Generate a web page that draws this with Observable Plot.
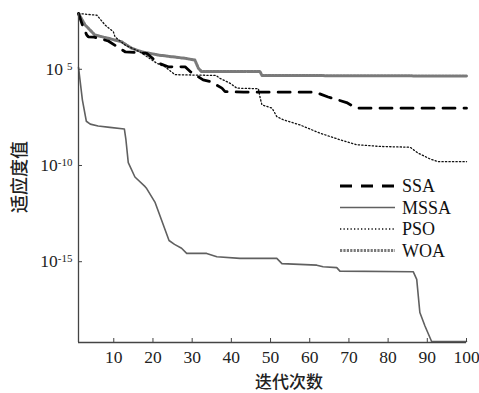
<!DOCTYPE html>
<html><head><meta charset="utf-8">
<script src="https://cdn.jsdelivr.net/npm/d3@7"></script>
<script src="https://cdn.jsdelivr.net/npm/@observablehq/plot@0.6"></script>
<style>
body{margin:0;background:#fff;}
#chart{width:479px;height:393px;}
svg text.tick-serif{font-family:'Liberation Serif','Times New Roman',serif !important;font-size:17.5px !important;}
</style></head><body><div id="chart"></div>
<script>
// ---- data (iteration, log10 of fitness) ----
const seriesNames = ["SSA", "MSSA", "PSO", "WOA"];
const ssaIter  = [1, 2, 3.1, 3.5, 5, 8.6, 12.9, 18.4, 21.3, 23.9, 28.2, 29.5, 32.8, 34.6, 37.6, 38.4, 43.1, 61.4, 64.7, 69.4, 72, 100];
const ssaLog10 = [-2.1, -2.7, -3.22, -3.31, -3.33, -3.53, -4.09, -4.17, -4.67, -4.87, -4.87, -5.12, -5.55, -5.64, -5.98, -6.16, -6.19, -6.19, -6.44, -6.73, -7.02, -7.02];
const mssaIter  = [1, 2, 3, 4, 6, 9, 12.7, 13.1, 13.7, 15.4, 18, 18.4, 20.5, 24.1, 25.5, 27.3, 28.6, 33.7, 36.3, 42.2, 51.6, 52.9, 61.8, 63.4, 66.9, 67.7, 86.4, 87.3, 88.1, 89.4, 91.1, 100];
const mssaLog10 = [-4.9, -6.6, -7.7, -7.85, -7.95, -8.02, -8.1, -8.66, -9.85, -10.6, -11.1, -11.2, -11.9, -13.9, -14.1, -14.3, -14.57, -14.57, -14.74, -14.83, -14.83, -15.1, -15.18, -15.26, -15.31, -15.49, -15.52, -15.92, -17.64, -18.34, -19.15, -19.15];
const psoIter  = [1, 5.7, 7.8, 9.9, 10.3, 12.9, 16.7, 21, 23.1, 25.6, 30.7, 36.1, 37.1, 39.7, 41.4, 46.9, 47.3, 47.8, 50.4, 51.6, 53.3, 57.5, 62.6, 67.7, 72, 77.9, 85.6, 87.6, 90.7, 92.7, 100];
const psoLog10 = [-2.1, -2.19, -2.7, -3.05, -3.31, -3.74, -4.1, -4.69, -4.87, -5.28, -5.3, -5.32, -5.47, -5.73, -5.98, -6.01, -6.44, -6.85, -7.02, -7.46, -7.63, -7.89, -8.32, -8.66, -8.92, -9.01, -9.05, -9.35, -9.66, -9.8, -9.8];
const woaIter  = [1, 2.7, 5.2, 8.6, 12, 14.6, 17.1, 21.4, 28.2, 30.7, 31.6, 32.4, 47.3, 47.8, 100];
const woaLog10 = [-2.1, -2.7, -3.22, -3.39, -3.57, -3.91, -4.09, -4.26, -4.43, -4.52, -4.95, -5.12, -5.11, -5.32, -5.35];

const xTicks = [10, 20, 30, 40, 50, 60, 70, 80, 90, 100];
const yTickExps = [-5, -10, -15];
const yTickBase = ["10", "10", "10"];
const yTickSup = ["5", "-10", "-15"];
const xTitle = "迭代次数";
const yTitle = "适应度值";

// ---- build tables ----
const toRows = (xs, ls) => xs.map((x, i) => ({x, y: Math.pow(10, ls[i])}));
const ssa = toRows(ssaIter, ssaLog10);
const mssa = toRows(mssaIter, mssaLog10);
const pso = toRows(psoIter, psoLog10);
const woa = toRows(woaIter, woaLog10);

const styles = {
  SSA:  {stroke: "#000", strokeWidth: 2.8, strokeDasharray: "12,9"},
  MSSA: {stroke: "#606060", strokeWidth: 1.6, strokeDasharray: null},
  PSO:  {stroke: "#111", strokeWidth: 1.3, strokeDasharray: "1.3,2.2"},
  WOA:  {stroke: "#7a7a7a", strokeWidth: 3, strokeDasharray: "2.2,1.2"}
};

const serif = "'Liberation Serif', 'Times New Roman', serif";
const cjk = "'Noto Sans CJK SC', sans-serif";
const yMin = Math.pow(10, -19.2), yMax = Math.pow(10, -2.1);
const axisColor = "#444";

const plot = Plot.plot({
  width: 479, height: 393,
  marginLeft: 78, marginRight: 13, marginTop: 13, marginBottom: 51,
  style: {fontFamily: serif, fontSize: "17px", color: "#222", background: "#fff", overflow: "visible"},
  x: {domain: [1, 100]},
  y: {type: "log", domain: [yMin, yMax]},
  marks: [
    Plot.line(mssa, {x: "x", y: "y", ...styles.MSSA}),
    Plot.line(woa, {x: "x", y: "y", ...styles.WOA}),
    Plot.line(pso, {x: "x", y: "y", ...styles.PSO}),
    Plot.line(ssa, {x: "x", y: "y", ...styles.SSA}),
    Plot.ruleX([1], {stroke: axisColor, strokeWidth: 1.3}),
    Plot.ruleY([yMin], {stroke: axisColor, strokeWidth: 1.3}),
    Plot.axisX({ticks: xTicks, tickSize: -4, tickPadding: 12, label: null, stroke: axisColor, fill: "#222"}),
    Plot.axisY({ticks: yTickExps.map(e => Math.pow(10, e)), tickSize: -4, tickPadding: 10, label: null, stroke: axisColor, fill: "#222",
      tickFormat: d => String(Math.round(Math.log10(d)))})
  ]
});

document.getElementById("chart").appendChild(plot);
const svg = d3.select(plot);

svg.selectAll('g[aria-label="x-axis tick label"], g[aria-label="y-axis tick label"]')
  .attr("font-family", serif).attr("font-size", 17.5).style("font-family", serif).style("font-size", "17.5px");
svg.selectAll('g[aria-label="x-axis tick label"] text, g[aria-label="y-axis tick label"] text').classed("tick-serif", true);

// superscript tick labels
svg.selectAll('g[aria-label="y-axis tick label"] text').each(function() {
  const t = d3.select(this);
  const i = yTickExps.indexOf(+t.text());
  if (i < 0) return;
  t.text(null);
  t.append("tspan").text(yTickBase[i]);
  t.append("tspan").attr("dy", "-0.45em").attr("dx", yTickSup[i] === "5" ? 4 : 0)
    .style("font-size", "11px").text(yTickSup[i]);
});

// axis titles
svg.append("text").attr("x", 289).attr("y", 388).attr("text-anchor", "middle")
  .attr("font-family", cjk).attr("font-size", 17).attr("font-weight", 500).attr("fill", "#222").text(xTitle);
svg.append("text").attr("transform", "translate(26,177) rotate(-90)").attr("text-anchor", "middle")
  .attr("font-family", cjk).attr("font-size", 18).attr("font-weight", 500).attr("fill", "#222").text(yTitle);

// legend
const leg = svg.append("g");
seriesNames.forEach((name, i) => {
  const y = 186 + i * 21.5;
  const s = styles[name];
  leg.append("line").attr("x1", 340).attr("x2", 395).attr("y1", y).attr("y2", y)
    .attr("stroke", s.stroke).attr("stroke-width", s.strokeWidth).attr("stroke-dasharray", s.strokeDasharray);
  leg.append("text").attr("x", 402).attr("y", y + 6).attr("text-anchor", "start")
    .attr("font-family", serif).attr("font-size", 18).attr("fill", "#111").text(name);
});
</script></body></html>
